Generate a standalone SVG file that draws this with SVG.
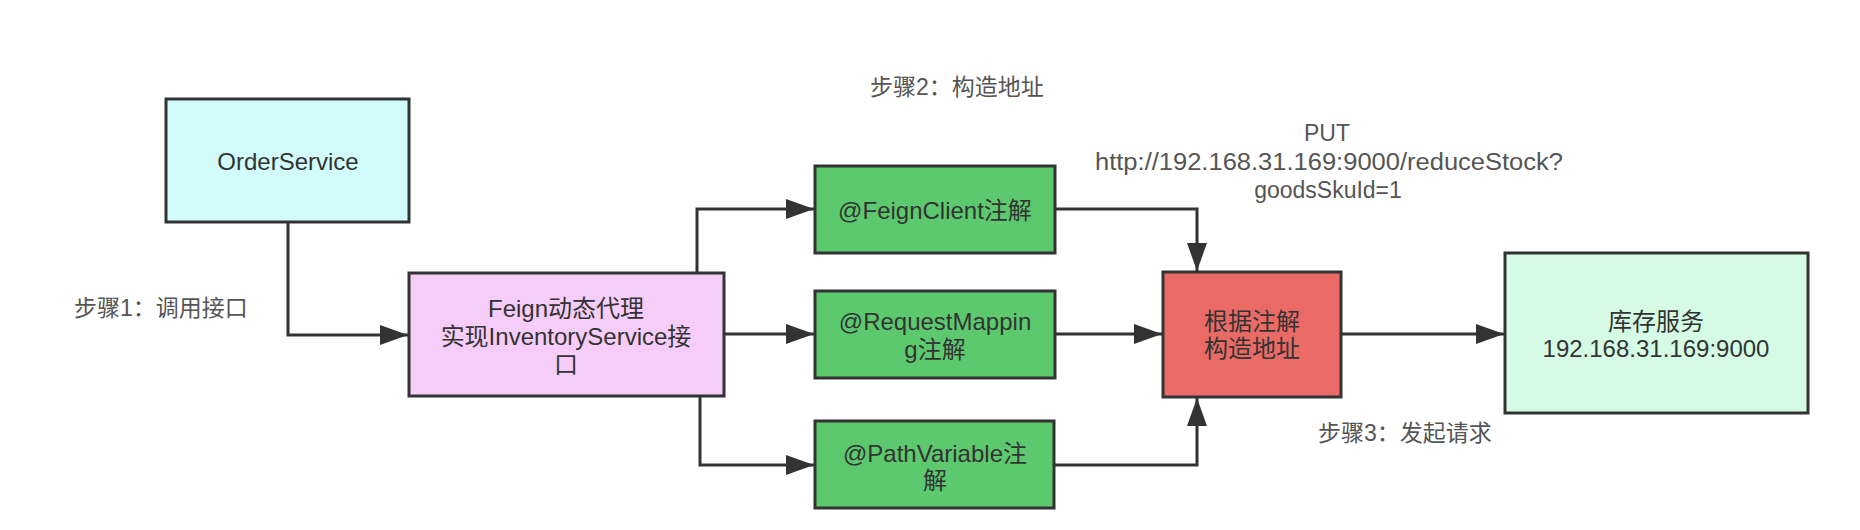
<svg xmlns="http://www.w3.org/2000/svg" width="1860" height="530" viewBox="0 0 1860 530">
<style>
.box{stroke:#333;stroke-width:3}
.t{font-family:"Liberation Sans","Noto Sans CJK SC",sans-serif;font-size:24px;fill:#333;text-anchor:middle;dominant-baseline:central}
.lbl{font-family:"Liberation Sans","Noto Sans CJK SC",sans-serif;font-size:23px;fill:#555;dominant-baseline:central}
.c{fill:none;stroke:#333;stroke-width:3}
</style>
<defs>
<marker id="ah" markerWidth="28" markerHeight="20" refX="28" refY="10" orient="auto" markerUnits="userSpaceOnUse">
<path d="M0,0 L28,10 L0,20 Z" fill="#333"/>
</marker>
</defs>
<rect width="1860" height="530" fill="#fff"/>
<g id="connectors">
<path class="c" d="M288,222 V335 H408" marker-end="url(#ah)"/>
<path class="c" d="M697,273 V209 H814" marker-end="url(#ah)"/>
<path class="c" d="M724,334 H814" marker-end="url(#ah)"/>
<path class="c" d="M700,396 V465 H814" marker-end="url(#ah)"/>
<path class="c" d="M1055,209 H1197 V271" marker-end="url(#ah)"/>
<path class="c" d="M1055,334 H1162" marker-end="url(#ah)"/>
<path class="c" d="M1054,465 H1197 V398" marker-end="url(#ah)"/>
<path class="c" d="M1341,334 H1504" marker-end="url(#ah)"/>
</g>
<g id="orderService">
<rect class="box" x="166" y="99" width="243" height="123" fill="#d2fcfc"/>
<text class="t" x="288" y="161">OrderService</text>
</g>
<g id="feignProxy">
<rect class="box" x="409" y="273" width="315" height="123" fill="#f6cdf8"/>
<text class="t" x="566" y="308">Feign动态代理</text>
<text class="t" x="566" y="336">实现InventoryService接</text>
<text class="t" x="566" y="364">口</text>
</g>
<g id="feignClient">
<rect class="box" x="815" y="166" width="240" height="87" fill="#5cc96e"/>
<text class="t" x="935" y="210">@FeignClient注解</text>
</g>
<g id="requestMapping">
<rect class="box" x="815" y="291" width="240" height="87" fill="#5cc96e"/>
<text class="t" x="935" y="321">@RequestMappin</text>
<text class="t" x="935" y="349">g注解</text>
</g>
<g id="pathVariable">
<rect class="box" x="815" y="421" width="239" height="87" fill="#5cc96e"/>
<text class="t" x="935" y="453">@PathVariable注</text>
<text class="t" x="935" y="480">解</text>
</g>
<g id="buildAddress">
<rect class="box" x="1163" y="272" width="178" height="125" fill="#ea6b66"/>
<text class="t" x="1252" y="321">根据注解</text>
<text class="t" x="1252" y="348">构造地址</text>
</g>
<g id="inventoryService">
<rect class="box" x="1505" y="253" width="303" height="160" fill="#d5fbe5"/>
<text class="t" x="1656" y="321">库存服务</text>
<text class="t" x="1656" y="348">192.168.31.169:9000</text>
</g>
<g id="labels">
<text class="lbl" x="74" y="308">步骤1：调用接口</text>
<text class="lbl" x="870" y="87">步骤2：构造地址</text>
<text class="lbl" x="1318" y="433">步骤3：发起请求</text>
<text class="lbl" x="1327" y="133" text-anchor="middle">PUT</text>
<text class="lbl" x="1329" y="162" text-anchor="middle" textLength="468" lengthAdjust="spacingAndGlyphs">http://192.168.31.169:9000/reduceStock?</text>
<text class="lbl" x="1328" y="190" text-anchor="middle">goodsSkuId=1</text>
</g>
</svg>
